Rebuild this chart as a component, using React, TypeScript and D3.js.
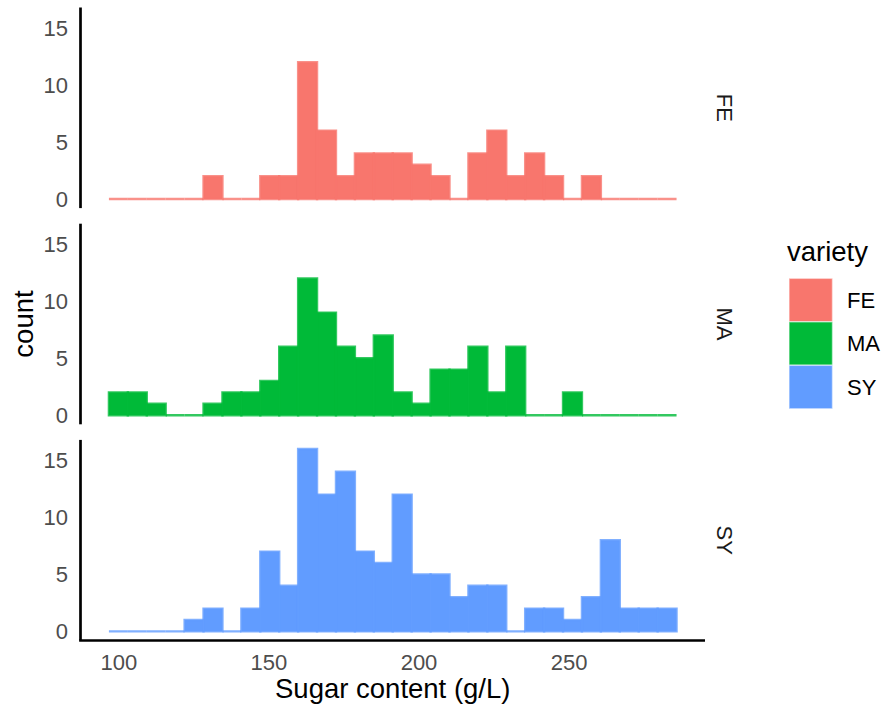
import React from "react";
import * as d3 from "d3";

// histogram counts per variety (30 bins)
const varieties = ["FE", "MA", "SY"];
const colors = ["#F8766D", "#00BA38", "#619CFF"];
const countsFE = [0, 0, 0, 0, 0, 2, 0, 0, 2, 2, 12, 6, 2, 4, 4, 4, 3, 2, 0, 4, 6, 2, 4, 2, 0, 2, 0, 0, 0, 0];
const countsMA = [2, 2, 1, 0, 0, 1, 2, 2, 3, 6, 12, 9, 6, 5, 7, 2, 1, 4, 4, 6, 2, 6, 0, 0, 2, 0, 0, 0, 0, 0];
const countsSY = [0, 0, 0, 0, 1, 2, 0, 2, 7, 4, 16, 12, 14, 7, 6, 12, 5, 5, 3, 4, 4, 0, 2, 2, 1, 3, 8, 2, 2, 2];
const binStart = 96.67;
const binWidth = 6.305;
const xTicks = [100, 150, 200, 250];
const yTicks = [0, 5, 10, 15];

const allCounts = [countsFE, countsMA, countsSY];

const W = 885;
const H = 713;
const left = 80.5;
const right = 705;
const panelTop = 7.5;
const panelH = 200.6;
const gap = 15.6;
const font = "'Liberation Sans', Arial, Helvetica, sans-serif";

export default function App() {
  const x = d3.scaleLinear().domain([87.2, 295.3]).range([left, right]);
  const yMax = d3.max(allCounts.flat()) as number;
  const pad = yMax * 0.05;

  const panels = varieties.map((v, i) => {
    const top = panelTop + i * (panelH + gap);
    const y = d3.scaleLinear().domain([-pad, yMax + pad]).range([top + panelH, top]);
    const counts = allCounts[i];
    return (
      <g key={v}>
        {counts.map((c, j) => {
          const x0 = x(binStart + j * binWidth);
          const x1 = x(binStart + (j + 1) * binWidth);
          // path so that empty bins still show their outline
          const p = d3.path();
          p.moveTo(x0, y(0));
          p.lineTo(x0, y(c));
          p.lineTo(x1, y(c));
          p.lineTo(x1, y(0));
          p.closePath();
          return (
            <path
              key={j}
              d={p.toString()}
              fill={colors[i]}
              stroke={colors[i]}
              strokeWidth={2.4}
              strokeOpacity={0.8}
            />
          );
        })}
        <line x1={left} x2={left} y1={top} y2={top + panelH} stroke="#000" strokeWidth={2.7} />
        {yTicks.map((t) => (
          <text
            key={t}
            x={68}
            y={y(t)}
            dy="0.36em"
            textAnchor="end"
            fontSize={22}
            fill="#4D4D4D"
            fontFamily={font}
          >
            {t}
          </text>
        ))}
        <text
          transform={`translate(717,${top + panelH / 2}) rotate(90)`}
          textAnchor="middle"
          fontSize={22}
          fill="#1A1A1A"
          fontFamily={font}
        >
          {v}
        </text>
      </g>
    );
  });

  const bottom = panelTop + 3 * panelH + 2 * gap;

  return (
    <svg width={W} height={H} style={{ position: "absolute", left: 0, top: 0, display: "block" }}>
      <rect width={W} height={H} fill="#fff" />
      {panels}
      <line x1={left - 1.35} x2={right} y1={bottom} y2={bottom} stroke="#000" strokeWidth={2.7} />
      {xTicks.map((t) => (
        <text
          key={t}
          x={x(t)}
          y={670}
          textAnchor="middle"
          fontSize={22}
          fill="#4D4D4D"
          fontFamily={font}
        >
          {t}
        </text>
      ))}
      <text x={(left + right) / 2} y={698} textAnchor="middle" fontSize={27.5} fill="#000" fontFamily={font}>
        Sugar content (g/L)
      </text>
      <text
        transform={`translate(33,${(panelTop + bottom) / 2}) rotate(-90)`}
        textAnchor="middle"
        fontSize={27.5}
        fill="#000"
        fontFamily={font}
      >
        count
      </text>
      <text x={787} y={261} fontSize={27.5} fill="#000" fontFamily={font}>
        variety
      </text>
      {varieties.map((v, i) => (
        <g key={v}>
          <rect
            x={789}
            y={278.3 + i * 43.5}
            width={43.5}
            height={43.5}
            fill={colors[i]}
            stroke="#fff"
            strokeOpacity={0.5}
            strokeWidth={1.5}
          />
          <text
            x={847}
            y={278.3 + i * 43.5 + 21.75}
            dy="0.36em"
            fontSize={22}
            fill="#000"
            fontFamily={font}
          >
            {v}
          </text>
        </g>
      ))}
    </svg>
  );
}
